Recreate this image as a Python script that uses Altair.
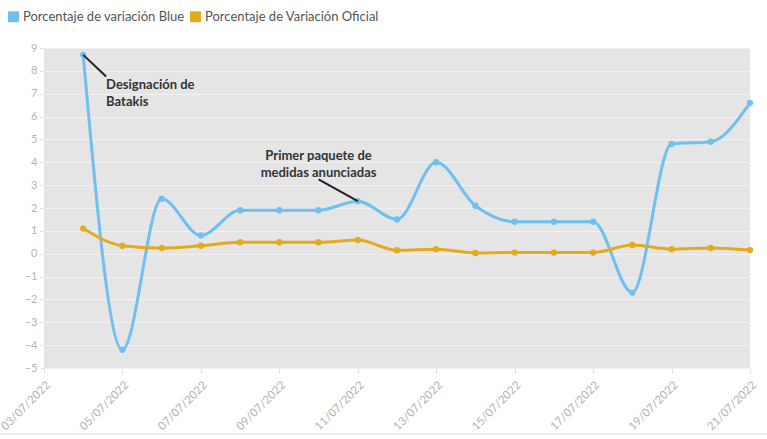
import altair as alt
import pandas as pd

dates = ["2022-07-04", "2022-07-05", "2022-07-06", "2022-07-07", "2022-07-08", "2022-07-09",
         "2022-07-10", "2022-07-11", "2022-07-12", "2022-07-13", "2022-07-14", "2022-07-15",
         "2022-07-16", "2022-07-17", "2022-07-18", "2022-07-19", "2022-07-20", "2022-07-21"]
blue = [8.7, -4.2, 2.4, 0.8, 1.9, 1.9, 1.9, 2.3, 1.5, 4.0, 2.1, 1.4, 1.4, 1.4, -1.7, 4.8, 4.9, 6.6]
oficial = [1.1, 0.35, 0.25, 0.35, 0.5, 0.5, 0.5, 0.6, 0.15, 0.2, 0.03, 0.05, 0.05, 0.05, 0.38, 0.2, 0.25, 0.16]
series_names = ["Porcentaje de variación Blue", "Porcentaje de Variación Oficial"]
series_colors = ["#6fc0ef", "#e5aa1c"]
tick_dates = ["2022-07-03", "2022-07-05", "2022-07-07", "2022-07-09", "2022-07-11",
              "2022-07-13", "2022-07-15", "2022-07-17", "2022-07-19", "2022-07-21"]

ann_text = ["Designación de\nBatakis", "Primer paquete de\nmedidas anunciadas"]
ann_text_x = ["2022-07-04T14:00:00Z", "2022-07-10T00:00:00Z"]
ann_text_y = [7.65, 4.55]
ann_align = ["left", "center"]
ann_line_x = ["2022-07-04T00:00:00Z", "2022-07-10T00:00:00Z"]
ann_line_y = [8.7, 3.25]
ann_line_x2 = ["2022-07-04T14:00:00Z", "2022-07-11T00:00:00Z"]
ann_line_y2 = [7.75, 2.3]

rows = []
for name, vals in zip(series_names, [blue, oficial]):
    for d, v in zip(dates, vals):
        rows.append({"fecha": d, "valor": v, "serie": name})
df = pd.DataFrame(rows)

ann = pd.DataFrame({"text": ann_text, "tx": ann_text_x, "ty": ann_text_y, "align": ann_align,
                    "lx": ann_line_x, "ly": ann_line_y, "lx2": ann_line_x2, "ly2": ann_line_y2})

def dt(s):
    y, m, d = s.split("-")
    return alt.DateTime(year=int(y), month=int(m), date=int(d), utc=True)

xscale = alt.Scale(type="utc", domain=[dt(tick_dates[0]), dt(tick_dates[-1])])
yscale = alt.Scale(domain=[-5, 9], nice=False)
xaxis = alt.Axis(values=[dt(t) for t in tick_dates],
                 labelExpr="utcFormat(datum.value, '%d/%m/%Y')",
                 labelAngle=-45, labelAlign="right", labelBaseline="top",
                 labelColor="#b3b3b3", labelFontSize=11.5, labelFont="Lato",
                 domain=False, ticks=True, tickColor="#e0e0e0", tickSize=5,
                 grid=False, labelPadding=6, labelOverlap=False, labelBound=False, labelFlush=False)
yaxis = alt.Axis(values=list(range(-5, 10)), labelColor="#b3b3b3", labelFontSize=11,
                 labelFont="Lato", domain=False, ticks=True, tickColor="#e0e0e0",
                 tickSize=4, gridColor="#f2f2f2", gridWidth=1, labelPadding=3, labelOverlap=False)
legend = alt.Legend(orient="none", legendX=-37, legendY=-38, direction="horizontal",
                    symbolType="square", symbolSize=120, symbolStrokeWidth=0,
                    labelFont="Lato", labelFontSize=13, labelColor="#555555", labelLimit=400,
                    labelOffset=3, columnPadding=4, symbolOpacity=1)
cscale = alt.Scale(domain=series_names, range=series_colors)

base = alt.Chart(df)
lines = base.mark_line(interpolate="monotone", strokeWidth=3).encode(
    x=alt.X("fecha:T", scale=xscale, axis=xaxis, title=None),
    y=alt.Y("valor:Q", scale=yscale, axis=yaxis, title=None),
    color=alt.Color("serie:N", scale=cscale, legend=legend, title=None))
points = base.mark_point(filled=True, size=40, opacity=1).encode(
    x=alt.X("fecha:T", scale=xscale, axis=xaxis, title=None),
    y=alt.Y("valor:Q", scale=yscale, axis=yaxis, title=None),
    color=alt.Color("serie:N", scale=cscale, legend=legend, title=None))

annbase = alt.Chart(ann)
ann_rules = annbase.mark_rule(color="#222222", strokeWidth=2).encode(
    x=alt.X("lx:T", scale=xscale, axis=xaxis, title=None),
    y=alt.Y("ly:Q", scale=yscale, axis=yaxis, title=None),
    x2="lx2:T", y2="ly2:Q")
ann_left = annbase.transform_filter(alt.datum.align == "left").mark_text(
    align="left", baseline="top", font="Lato", fontWeight="bold", fontSize=13,
    color="#333333", lineBreak="\n", lineHeight=17).encode(
    x=alt.X("tx:T", scale=xscale, axis=xaxis, title=None),
    y=alt.Y("ty:Q", scale=yscale, axis=yaxis, title=None), text="text:N")
ann_center = annbase.transform_filter(alt.datum.align == "center").mark_text(
    align="center", baseline="top", font="Lato", fontWeight="bold", fontSize=13,
    color="#333333", lineBreak="\n", lineHeight=17).encode(
    x=alt.X("tx:T", scale=xscale, axis=xaxis, title=None),
    y=alt.Y("ty:Q", scale=yscale, axis=yaxis, title=None), text="text:N")

border = alt.Chart(pd.DataFrame({"k": [0]})).mark_rule(color="#dddddd", strokeWidth=1).encode(
    x=alt.value(-44), x2=alt.value(723), y=alt.value(386))

chart = alt.layer(lines, points, ann_rules, ann_left, ann_center, border).properties(
    width=706, height=320,
    autosize=alt.AutoSizeParams(type="none"),
    padding={"left": 44, "top": 48, "right": 17, "bottom": 71},
    background="white",
).configure_view(fill="#e5e5e5", stroke=None)

chart.save("out.html", embed_options={"renderer": "svg", "actions": False})
